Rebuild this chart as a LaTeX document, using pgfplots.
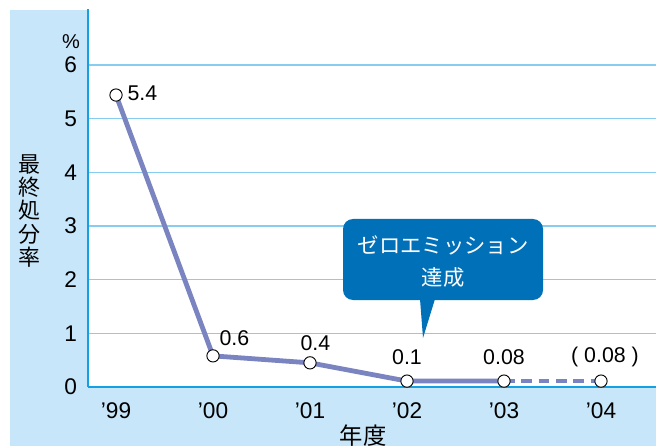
\documentclass[border=0pt]{standalone}
\usepackage{pgfplots}
\pgfplotsset{compat=1.18}
\usepackage{fontspec}
\setmainfont{Liberation Sans}
\newfontfamily\jp{Noto Sans CJK JP}
\definecolor{bgblue}{RGB}{200,230,249}
\definecolor{axcyan}{RGB}{20,160,225}
\definecolor{gridblue}{RGB}{135,205,240}
\definecolor{linec}{RGB}{122,132,192}
\definecolor{callout}{RGB}{0,112,184}
\begin{document}
\begin{tikzpicture}
\path[use as bounding box] (-66pt,-44.25pt) rectangle (426pt,290.25pt);
\fill[bgblue] (-58.5pt,-44.25pt) rectangle (426pt,282.75pt);
\fill[white] (0pt,0pt) rectangle (426pt,290.25pt);
\begin{axis}[
 at={(0pt,0pt)}, anchor=south west,
 scale only axis, width=426pt, height=283.5pt,
 xmin=-0.2887, xmax=5.567, ymin=0, ymax=7.043,
 axis x line=bottom, axis y line=left,
 axis line style={draw=axcyan, line width=1.1pt, -},
 xtick={0,...,5}, xticklabels={’99,’00,’01,’02,’03,’04},
 ytick={0,...,6},
 major tick length=0pt,
 ymajorgrids, grid style={gridblue, line width=1.1pt},
 tick label style={font=\fontsize{17}{19}\selectfont},
 /pgf/number format/assume math mode=true,
 xticklabel style={anchor=north, inner sep=0pt, yshift=-11.5pt},
 yticklabel style={anchor=east, inner sep=0pt, xshift=-8pt},
 clip=false,
]
\addplot[linec, line width=3.6pt, line join=round] coordinates {(0,5.44) (1,0.58) (2,0.45) (3,0.11) (4,0.11)};
\addplot[linec, line width=3.6pt, dash pattern=on 8pt off 5pt] coordinates {(4,0.11) (5,0.11)};
\addplot[only marks, mark=*, mark size=4.6pt, mark options={fill=white, draw=black, line width=0.7pt}] coordinates {(0,5.44) (1,0.58) (2,0.45) (3,0.11) (4,0.11) (5,0.11)};
\begin{scope}[every node/.style={font=\fontsize{16}{18}\selectfont, inner sep=0pt}]
\node[anchor=west] at (axis cs:0,5.44) [xshift=8.5pt, yshift=1.5pt] {5.4};
\node at (axis cs:1,0.58) [xshift=16pt, yshift=13.5pt] {0.6};
\node at (axis cs:2,0.45) [xshift=4pt, yshift=15pt] {0.4};
\node at (axis cs:3,0.11) [yshift=18pt] {0.1};
\node at (axis cs:4,0.11) [yshift=18pt] {0.08};
\node at (axis cs:5,0.11) [xshift=3pt, yshift=18pt] {(\ 0.08\ )};
\end{scope}
\end{axis}
\node[font=\fontsize{15}{17}\selectfont] at (-12.75pt,259pt) {\%};
\node[font=\jp\fontsize{16.5}{17.5}\selectfont, align=center, inner sep=0pt] at (-43.5pt,132pt) {最\\終\\処\\分\\率};
\node[font=\jp\fontsize{17.5}{19}\selectfont, inner sep=0pt] at (206.25pt,-36.75pt) {年度};
\fill[callout, rounded corners=7.5pt] (191.25pt,65.25pt) rectangle (341.25pt,126pt);
\fill[callout] (249pt,66pt) -- (260.25pt,66pt) -- (251.25pt,36.75pt) -- cycle;
\node[white, font=\jp\fontsize{16}{18}\selectfont, inner sep=0pt] at (266.25pt,106.5pt) {ゼロエミッション};
\node[white, font=\jp\fontsize{16}{18}\selectfont, inner sep=0pt] at (266.25pt,82.5pt) {達成};
\end{tikzpicture}
\end{document}
